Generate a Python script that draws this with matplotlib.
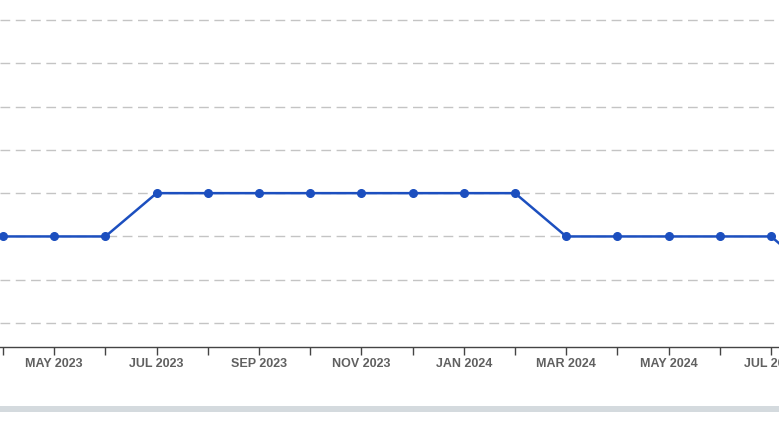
import matplotlib.pyplot as plt
from matplotlib.patches import Rectangle

months = ["APR 2023", "MAY 2023", "JUN 2023", "JUL 2023", "AUG 2023", "SEP 2023",
          "OCT 2023", "NOV 2023", "DEC 2023", "JAN 2024", "FEB 2024", "MAR 2024",
          "APR 2024", "MAY 2024", "JUN 2024", "JUL 2024", "AUG 2024"]
values = [3, 3, 3, 4, 4, 4, 4, 4, 4, 4, 4, 3, 3, 3, 3, 3, 2]
grid_levels = [1, 2, 3, 4, 5, 6, 7, 8]

W, H = 779, 425
fig = plt.figure(figsize=(W / 100, H / 100), dpi=100)
ax = fig.add_axes([0, (H - 347) / H, 1, 347 / H])

x = list(range(len(months)))
ax.plot(x, values, color="#1c4fbf", lw=1.8, marker="o", ms=5.5,
        markerfacecolor="#1c4fbf", markeredgecolor="#1c4fbf", zorder=3)

for g in grid_levels:
    ax.axhline(g, color="#c4c4c4", lw=1, dashes=(7, 4), zorder=1)

ax.set_xticks(x)
ax.set_xticklabels([m if i % 2 == 1 else "" for i, m in enumerate(months)],
                   fontsize=9, color="#606060", family="Liberation Sans",
                   fontweight="bold")
ax.tick_params(axis="x", length=6, width=1, color="#444444", pad=2)
ax.set_yticks([])

# limits after ticks, otherwise set_xticks widens the view
ax.set_xlim(-3 / 51.2, 776 / 51.2)
ax.set_ylim(1 - 24 / 43.4, 8 + 20 / 43.4)

for side in ["top", "left", "right"]:
    ax.spines[side].set_visible(False)
ax.spines["bottom"].set_color("#444444")
ax.spines["bottom"].set_linewidth(1)

# grey strip under the chart
fig.add_artist(Rectangle((0, (H - 412) / H), 1, 6 / H, transform=fig.transFigure,
                         facecolor="#d4dade", edgecolor="none"))

fig.savefig("out.png", dpi=100)
